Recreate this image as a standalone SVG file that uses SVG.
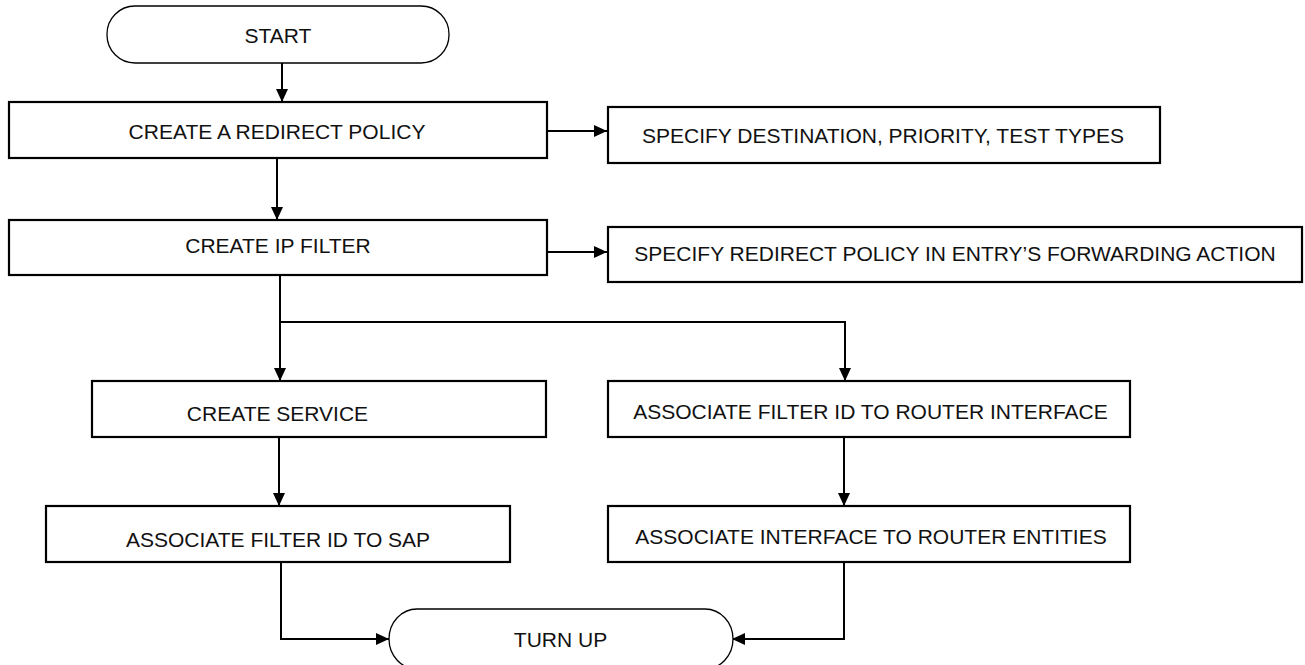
<svg xmlns="http://www.w3.org/2000/svg" width="1305" height="665" viewBox="0 0 1305 665">
<style>
.box{fill:#fff;stroke:#000;stroke-width:2.2}
.term{fill:#fff;stroke:#000;stroke-width:1.3}
.lbl{font-family:"Liberation Sans",Arial,sans-serif;font-size:21px;fill:#111;text-anchor:middle}
.conn path{fill:none;stroke:#000;stroke-width:2}
</style>
<defs>
<marker id="ah" viewBox="0 0 13 12" refX="13" refY="6" markerWidth="13" markerHeight="12" markerUnits="userSpaceOnUse" orient="auto">
<path d="M0,0 L13,6 L0,12 Z" fill="#000"/>
</marker>
</defs>
<rect width="1305" height="665" fill="#fff"/>
<g class="conn">
<path d="M282,63 V102" marker-end="url(#ah)"/>
<path d="M547,131 H607" marker-end="url(#ah)"/>
<path d="M277,158 V220" marker-end="url(#ah)"/>
<path d="M547,252 H607" marker-end="url(#ah)"/>
<path d="M280,275 V381" marker-end="url(#ah)"/>
<path d="M280,322 H845 V381" marker-end="url(#ah)"/>
<path d="M279,437 V506" marker-end="url(#ah)"/>
<path d="M844,437 V506" marker-end="url(#ah)"/>
<path d="M281,562 V639 H389" marker-end="url(#ah)"/>
<path d="M844,562 V639 H732" marker-end="url(#ah)"/>
</g>
<g id="start">
<rect class="term" x="107" y="6" width="342" height="57" rx="28" ry="28"/>
<text class="lbl" x="278" y="43">START</text>
</g>
<g id="create-redirect">
<rect class="box" x="9" y="102" width="538" height="56"/>
<text class="lbl" x="277" y="138.5">CREATE A REDIRECT POLICY</text>
</g>
<g id="specify-dest">
<rect class="box" x="608" y="107" width="552" height="56"/>
<text class="lbl" x="883" y="142.5">SPECIFY DESTINATION, PRIORITY, TEST TYPES</text>
</g>
<g id="create-ip-filter">
<rect class="box" x="9" y="220" width="538" height="55"/>
<text class="lbl" x="278" y="252.5">CREATE IP FILTER</text>
</g>
<g id="specify-redirect">
<rect class="box" x="608" y="227" width="694" height="55"/>
<text class="lbl" x="955" y="260.5">SPECIFY REDIRECT POLICY IN ENTRY’S FORWARDING ACTION</text>
</g>
<g id="create-service">
<rect class="box" x="92" y="381" width="454" height="56"/>
<text class="lbl" x="277.5" y="420.5">CREATE SERVICE</text>
</g>
<g id="assoc-router-if">
<rect class="box" x="608" y="381" width="522" height="56"/>
<text class="lbl" x="870.5" y="419">ASSOCIATE FILTER ID TO ROUTER INTERFACE</text>
</g>
<g id="assoc-sap">
<rect class="box" x="46" y="506" width="464" height="56"/>
<text class="lbl" x="278" y="546.5">ASSOCIATE FILTER ID TO SAP</text>
</g>
<g id="assoc-entities">
<rect class="box" x="608" y="506" width="522" height="56"/>
<text class="lbl" x="871" y="544">ASSOCIATE INTERFACE TO ROUTER ENTITIES</text>
</g>
<g id="turn-up">
<rect class="term" x="389" y="609" width="344" height="60" rx="28" ry="30"/>
<text class="lbl" x="560.5" y="646.5">TURN UP</text>
</g>
</svg>
